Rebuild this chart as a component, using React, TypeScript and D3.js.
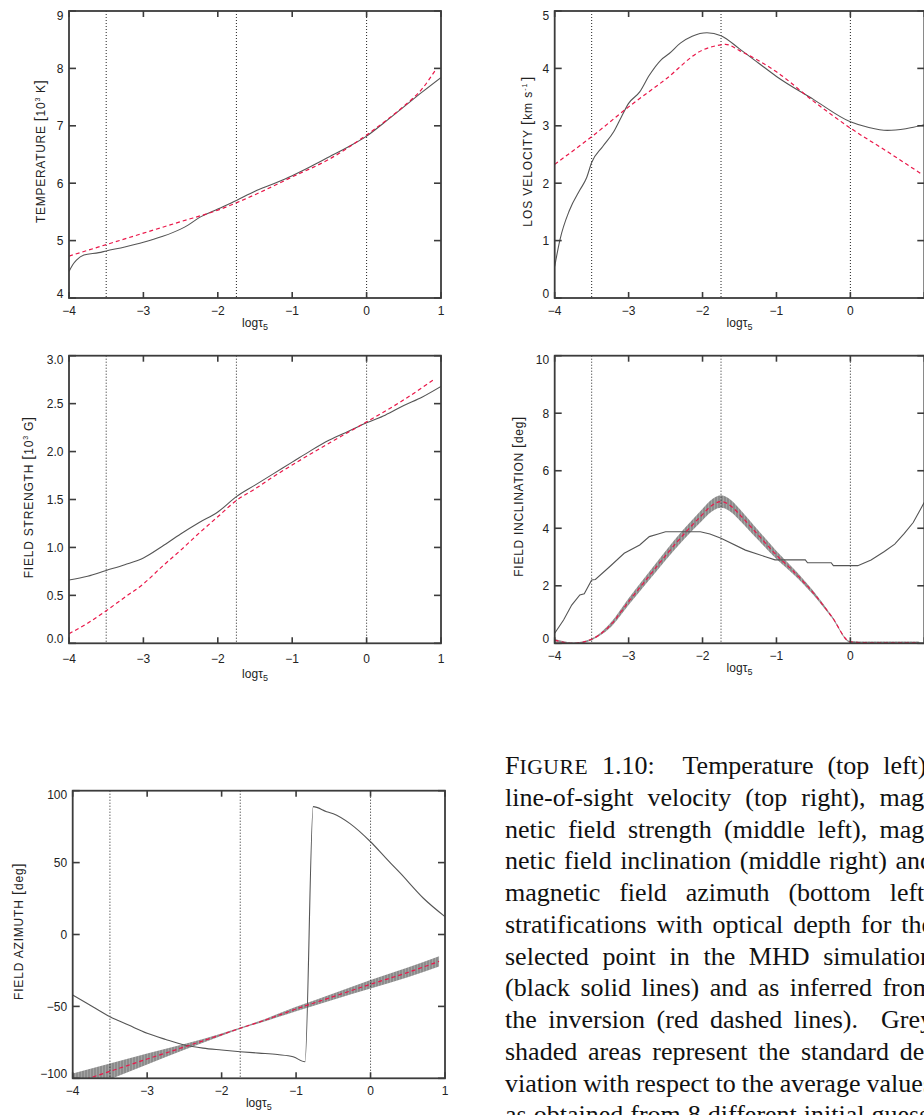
import React from "react";
import * as d3 from "d3";

// ---------- shared axis data ----------
const LOG_TAU_TICKS = [-4, -3, -2, -1, 0, 1];
const NODE_LOG_TAU = [-3.5, -1.75, 0];

// ---------- Temperature [10^3 K] ----------
const tempSimX = [-4, -3.95, -3.9, -3.8, -3.6, -3.5, -3.25, -3.0, -2.75, -2.5, -2.4, -2.25, -2.0, -1.75, -1.5, -1.25, -1.0, -0.75, -0.5, -0.25, 0, 0.25, 0.5, 0.75, 1];
const tempSimY = [4.46, 4.58, 4.66, 4.75, 4.79, 4.82, 4.89, 4.97, 5.07, 5.2, 5.27, 5.4, 5.55, 5.7, 5.86, 5.99, 6.13, 6.29, 6.46, 6.63, 6.82, 7.07, 7.33, 7.59, 7.84];
const tempInvX = [-4, -3.5, -3, -2.5, -2, -1.5, -1, -0.5, 0, 0.25, 0.5, 0.75, 0.93];
const tempInvY = [4.73, 4.93, 5.13, 5.33, 5.53, 5.8, 6.11, 6.42, 6.84, 7.08, 7.34, 7.65, 7.98];
const tempTicks = [4, 5, 6, 7, 8, 9];

// ---------- LOS velocity [km/s] ----------
const velSimX = [-4, -3.93, -3.8, -3.66, -3.57, -3.5, -3.35, -3.2, -3.1, -3.0, -2.85, -2.72, -2.56, -2.45, -2.3, -2.14, -1.94, -1.75, -1.5, -1.24, -1.0, -0.5, 0, 0.25, 0.5, 0.75, 1];
const velSimY = [0.55, 1.01, 1.53, 1.88, 2.09, 2.36, 2.64, 2.9, 3.15, 3.39, 3.59, 3.88, 4.15, 4.26, 4.44, 4.56, 4.62, 4.57, 4.34, 4.09, 3.86, 3.46, 3.07, 2.97, 2.92, 2.95, 3.02];
const velInvX = [-4, -3.5, -3, -2.5, -2, -1.75, -1.69, -1.5, -1, -0.5, 0, 0.5, 0.95];
const velInvY = [2.33, 2.81, 3.33, 3.81, 4.32, 4.41, 4.42, 4.31, 3.94, 3.43, 2.96, 2.55, 2.17];
const velTicks = [0, 1, 2, 3, 4, 5];

// ---------- Field strength [10^3 G] ----------
const bSimX = [-4, -3.75, -3.5, -3.25, -3, -2.75, -2.5, -2.25, -2, -1.75, -1.5, -1.25, -1, -0.75, -0.5, -0.25, 0, 0.25, 0.5, 0.75, 1];
const bSimY = [0.66, 0.7, 0.76, 0.82, 0.89, 1.01, 1.14, 1.26, 1.37, 1.53, 1.65, 1.77, 1.89, 2.01, 2.12, 2.21, 2.3, 2.38, 2.48, 2.57, 2.68];
const bInvX = [-4, -3.75, -3.5, -3.25, -3, -2.75, -2.5, -2.25, -2, -1.75, -1.5, -1.25, -1, -0.5, 0, 0.5, 0.92];
const bInvY = [0.1, 0.21, 0.34, 0.48, 0.62, 0.8, 0.97, 1.15, 1.32, 1.49, 1.61, 1.74, 1.86, 2.09, 2.31, 2.54, 2.76];
const bTicks = [0, 0.5, 1, 1.5, 2, 2.5, 3];

// ---------- Field inclination [deg] ----------
const incSimX = [-4, -3.88, -3.77, -3.66, -3.6, -3.5, -3.45, -3.25, -3.06, -2.85, -2.72, -2.6, -2.5, -2.03, -1.9, -1.75, -1.42, -1.15, -1.02, -0.61, -0.58, -0.26, -0.23, 0.1, 0.28, 0.46, 0.6, 0.73, 0.85, 1.0];
const incSimY = [0.35, 0.81, 1.33, 1.68, 1.72, 2.2, 2.22, 2.68, 3.13, 3.42, 3.71, 3.8, 3.88, 3.88, 3.8, 3.65, 3.24, 3.01, 2.9, 2.9, 2.8, 2.8, 2.7, 2.7, 2.9, 3.19, 3.45, 3.82, 4.2, 4.9];
const incInvX = [-4, -3.75, -3.5, -3.25, -3, -2.75, -2.5, -2.25, -2, -1.9, -1.75, -1.6, -1.5, -1.25, -1, -0.75, -0.5, -0.25, 0, 0.25, 0.5, 0.93];
const incInvY = [0.11, 0.0, 0.14, 0.62, 1.45, 2.25, 3.05, 3.8, 4.48, 4.74, 4.93, 4.74, 4.48, 3.77, 3.07, 2.45, 1.75, 0.92, 0.05, 0.02, 0.02, 0.02];
const incInvSd = [0.04, 0.03, 0.03, 0.08, 0.12, 0.14, 0.16, 0.18, 0.2, 0.21, 0.22, 0.21, 0.2, 0.17, 0.14, 0.1, 0.07, 0.04, 0.03, 0.04, 0.04, 0.04];
const incTicks = [0, 2, 4, 6, 8, 10];

// ---------- Field azimuth [deg] ----------
const aziSimX = [-4, -3.81, -3.5, -3.25, -3.0, -2.75, -2.5, -2.25, -2.0, -1.75, -1.5, -1.25, -1.04, -0.88, -0.77, -0.59, -0.5, -0.28, 0, 0.2, 0.4, 0.71, 1.0];
const aziSimY = [-42.1, -47.8, -57.2, -63, -68.7, -73, -76.8, -79, -80.3, -81.5, -82.5, -83.5, -85, -88.5, 88.9, 85.4, 84, 77.3, 64.5, 53.5, 42.6, 25.2, 12.4];
const aziInvX = [-4, -3.5, -3, -2.5, -2, -1.75, -1.5, -1, -0.5, 0, 0.5, 0.92];
const aziInvY = [-103.6, -95.2, -86.6, -78.2, -69.6, -65.2, -61.0, -51.8, -43.2, -34.6, -26.4, -18.7];
const aziInvSd = [7, 5.5, 3.8, 2.0, 0.8, 0.5, 0.7, 1.5, 2.2, 3.0, 3.4, 3.6];
const aziTicks = [-100, -50, 0, 50, 100];

// ---------- caption ----------
const CAPTION_LINES = [
  "FIGURE 1.10: Temperature (top left),",
  "line-of-sight velocity (top right), mag-",
  "netic field strength (middle left), mag-",
  "netic field inclination (middle right) and",
  "magnetic field azimuth (bottom left)",
  "stratifications with optical depth for the",
  "selected point in the MHD simulation",
  "(black solid lines) and as inferred from",
  "the inversion (red dashed lines). Grey",
  "shaded areas represent the standard de-",
  "viation with respect to the average values",
  "as obtained from 8 different initial guesses.",
];

// ---------- styles ----------
const SANS = "'Liberation Sans', Arial, sans-serif";
const SERIF = "'Liberation Serif', 'Times New Roman', serif";
const FRAME = "#3c3c3c";
const SIM_COLOR = "#555555";
const INV_COLOR = "#ea1749";
const VIEW_W = 924;
const VIEW_H = 1115;

type PanelCfg = {
  id: string;
  x0: number; x1: number; y0: number; y1: number;
  yDomain: [number, number];
  yTicks: number[];
  fmt: (v: number) => string;
  simX: number[]; simY: number[];
  invX: number[]; invY: number[];
  sd?: number[];
  simCurve: d3.CurveFactory;
  titleX: number; titleY: number; titleLen: number;
  title: React.ReactNode;
  xLabDy: number; xTitleDy: number;
};

const zip2 = (a: number[], b: number[]) => a.map((v, i) => [v, b[i]] as [number, number]);

const br = (c: string) => <tspan fontSize={15}>{c}</tspan>;

const PANELS: PanelCfg[] = [
  {
    id: "temp", x0: 69, x1: 441, y0: 11, y1: 298, yDomain: [4, 9], yTicks: tempTicks,
    fmt: d3.format("d"), simX: tempSimX, simY: tempSimY, invX: tempInvX, invY: tempInvY,
    simCurve: d3.curveMonotoneX, titleX: 45, titleY: 151.5, titleLen: 143,
    title: <>TEMPERATURE {br("[")}10<tspan fontSize={7} dy={-5}>3</tspan><tspan dy={5}> K</tspan>{br("]")}</>,
    xLabDy: 17, xTitleDy: 29,
  },
  {
    id: "vel", x0: 554.7, x1: 924.3, y0: 11, y1: 298, yDomain: [0, 5], yTicks: velTicks,
    fmt: d3.format("d"), simX: velSimX, simY: velSimY, invX: velInvX, invY: velInvY,
    simCurve: d3.curveMonotoneX, titleX: 531.7, titleY: 151.7, titleLen: 150,
    title: <>LOS VELOCITY {br("[")}km s<tspan fontSize={7} dy={-5}>-1</tspan><tspan dy={5}>{"\u200A"}</tspan>{br("]")}</>,
    xLabDy: 17, xTitleDy: 29,
  },
  {
    id: "b", x0: 69, x1: 441, y0: 355.7, y1: 643.3, yDomain: [0, 3], yTicks: bTicks,
    fmt: d3.format(".1f"), simX: bSimX, simY: bSimY, invX: bInvX, invY: bInvY,
    simCurve: d3.curveMonotoneX, titleX: 33.3, titleY: 497.5, titleLen: 161.6,
    title: <>FIELD STRENGTH {br("[")}10<tspan fontSize={7} dy={-5}>3</tspan><tspan dy={5}> G</tspan>{br("]")}</>,
    xLabDy: 20, xTitleDy: 35,
  },
  {
    id: "inc", x0: 554.7, x1: 924.3, y0: 355.7, y1: 643.3, yDomain: [0, 10], yTicks: incTicks,
    fmt: d3.format("d"), simX: incSimX, simY: incSimY, invX: incInvX, invY: incInvY, sd: incInvSd,
    simCurve: d3.curveLinear, titleX: 523.3, titleY: 496.7, titleLen: 160,
    title: <>FIELD INCLINATION {br("[")}deg{br("]")}</>,
    xLabDy: 17, xTitleDy: 29,
  },
  {
    id: "azi", x0: 72.7, x1: 445, y0: 790.7, y1: 1078.3, yDomain: [-100, 100], yTicks: aziTicks,
    fmt: d3.format("d"), simX: aziSimX, simY: aziSimY, invX: aziInvX, invY: aziInvY, sd: aziInvSd,
    simCurve: d3.curveMonotoneX, titleX: 22.7, titleY: 931.7, titleLen: 136.7,
    title: <>FIELD AZIMUTH {br("[")}deg{br("]")}</>,
    xLabDy: 17, xTitleDy: 29,
  },
];

function Panel({ cfg }: { cfg: PanelCfg }) {
  const x = d3.scaleLinear().domain([-4, 1]).range([cfg.x0, cfg.x1]);
  const y = d3.scaleLinear().domain(cfg.yDomain).range([cfg.y1, cfg.y0]);
  const simPath = d3.line<[number, number]>().x((d) => x(d[0])).y((d) => y(d[1])).curve(cfg.simCurve)(zip2(cfg.simX, cfg.simY)) || "";
  const invPath = d3.line<[number, number]>().x((d) => x(d[0])).y((d) => y(d[1])).curve(d3.curveMonotoneX)(zip2(cfg.invX, cfg.invY)) || "";
  let bandPath = "";
  if (cfg.sd) {
    const sd = cfg.sd;
    const area = d3.area<number>()
      .x((i) => x(cfg.invX[i]))
      .y0((i) => y(cfg.invY[i] - sd[i]))
      .y1((i) => y(cfg.invY[i] + sd[i]))
      .curve(d3.curveMonotoneX);
    bandPath = area(d3.range(cfg.invX.length)) || "";
  }
  const clipId = `clip-${cfg.id}`;
  const xTickFmt = d3.format("d");
  const nY = cfg.yTicks.length;
  const xMid = (cfg.x0 + cfg.x1) / 2;
  return (
    <g>
      <defs>
        <clipPath id={clipId}>
          <rect x={cfg.x0} y={cfg.y0} width={cfg.x1 - cfg.x0} height={cfg.y1 - cfg.y0} />
        </clipPath>
      </defs>
      <g clipPath={`url(#${clipId})`}>
        {bandPath && <path d={bandPath} fill="url(#bandPattern)" stroke="none" />}
        {NODE_LOG_TAU.map((v) => (
          <line key={v} x1={x(v)} x2={x(v)} y1={cfg.y0} y2={cfg.y1} stroke="#222" strokeWidth={1} strokeDasharray="1,2" />
        ))}
        <path d={simPath} fill="none" stroke={SIM_COLOR} strokeWidth={1.1} />
        <path d={invPath} fill="none" stroke={INV_COLOR} strokeWidth={1.2} strokeDasharray="4,3" />
      </g>
      <rect x={cfg.x0} y={cfg.y0} width={cfg.x1 - cfg.x0} height={cfg.y1 - cfg.y0} fill="none" stroke={FRAME} strokeWidth={1.8} />
      {LOG_TAU_TICKS.map((t) => (
        <g key={`xt${t}`}>
          <line x1={x(t)} x2={x(t)} y1={cfg.y1} y2={cfg.y1 - 6} stroke={FRAME} strokeWidth={1.6} />
          <line x1={x(t)} x2={x(t)} y1={cfg.y0} y2={cfg.y0 + 6} stroke={FRAME} strokeWidth={1.6} />
          {x(t) + 4 <= VIEW_W && (
            <text x={x(t)} y={cfg.y1 + cfg.xLabDy} textAnchor="middle" fontSize={12} fontFamily={SANS} fill="#222">
              {xTickFmt(t)}
            </text>
          )}
        </g>
      ))}
      {cfg.yTicks.map((t, i) => {
        const base = i === 0 ? cfg.y1 : i === nY - 1 ? cfg.y0 + 8.6 : y(t) + 4.3;
        return (
          <g key={`yt${t}`}>
            <line x1={cfg.x0} x2={cfg.x0 + 7} y1={y(t)} y2={y(t)} stroke={FRAME} strokeWidth={1.6} />
            <line x1={cfg.x1} x2={cfg.x1 - 7} y1={y(t)} y2={y(t)} stroke={FRAME} strokeWidth={1.6} />
            <text x={cfg.x0 - 5.5} y={base} textAnchor="end" fontSize={12} fontFamily={SANS} fill="#222">
              {cfg.fmt(t)}
            </text>
          </g>
        );
      })}
      <text x={xMid} y={cfg.y1 + cfg.xTitleDy} textAnchor="middle" fontSize={12} fontFamily={SANS} fill="#222">
        log{"\u03C4"}<tspan fontSize={9} dy={3}>5</tspan>
      </text>
      <text
        transform={`translate(${cfg.titleX},${cfg.titleY}) rotate(-90)`}
        textAnchor="middle"
        fontSize={12}
        fontFamily={SANS}
        fill="#222"
        textLength={cfg.titleLen}
        lengthAdjust="spacing"
      >
        {cfg.title}
      </text>
    </g>
  );
}

let measureCtx: CanvasRenderingContext2D | null = null;
function measure(s: string, size: number, ls = 0): number {
  if (!measureCtx) measureCtx = document.createElement("canvas").getContext("2d");
  if (!measureCtx) return s.length * size * 0.45;
  measureCtx.font = `${size}px "Liberation Serif"`;
  return measureCtx.measureText(s).width + ls * s.length;
}

const CAP_X = 505;
const CAP_W = 428;
const CAP_Y0 = 774;
const CAP_LH = 31.77;
const CAP_FS = 26;
const SC_FS = 21.5;
const SC_LS = 0.6;

function Caption() {
  const rows = CAPTION_LINES.map((ln, li) => {
    const words = ln.split(" ");
    const widths = words.map((w) =>
      w === "FIGURE" ? measure("F", CAP_FS) + measure("IGURE", SC_FS, SC_LS) : measure(w, CAP_FS)
    );
    const weights = words.slice(0, -1).map((w) => (/[:.]$/.test(w) ? 2.0 : 1));
    const totalW = d3.sum(widths);
    const isLast = li === CAPTION_LINES.length - 1;
    const g = isLast ? CAP_FS * 0.27 : (CAP_W - totalW) / d3.sum(weights);
    let cx = CAP_X;
    const items = words.map((w, i) => {
      const item = { w, x: cx };
      cx += widths[i] + (i < weights.length ? weights[i] * g : 0);
      return item;
    });
    const yy = CAP_Y0 + li * CAP_LH;
    return (
      <g key={li}>
        {items.map((it, i) =>
          it.w === "FIGURE" ? (
            <text key={i} x={it.x} y={yy} fontFamily={SERIF} fontSize={CAP_FS} fill="#111">
              F<tspan fontSize={SC_FS} letterSpacing={SC_LS}>IGURE</tspan>
            </text>
          ) : (
            <text key={i} x={it.x} y={yy} fontFamily={SERIF} fontSize={CAP_FS} fill="#111">
              {it.w}
            </text>
          )
        )}
      </g>
    );
  });
  return <g>{rows}</g>;
}

export default function App() {
  return (
    <div style={{ position: "absolute", left: 0, top: 0, width: VIEW_W, height: VIEW_H, background: "#fff" }}>
      <svg width={VIEW_W} height={VIEW_H} viewBox={`0 0 ${VIEW_W} ${VIEW_H}`} style={{ display: "block" }}>
        <defs>
          <pattern id="bandPattern" width={3} height={10} patternUnits="userSpaceOnUse">
            <rect width={3} height={10} fill="#8c8c8c" />
            <rect width={1} height={10} fill="#a3a3a3" />
          </pattern>
        </defs>
        <rect width={VIEW_W} height={VIEW_H} fill="#fff" />
        {PANELS.map((p) => (
          <Panel key={p.id} cfg={p} />
        ))}
        <Caption />
      </svg>
    </div>
  );
}
